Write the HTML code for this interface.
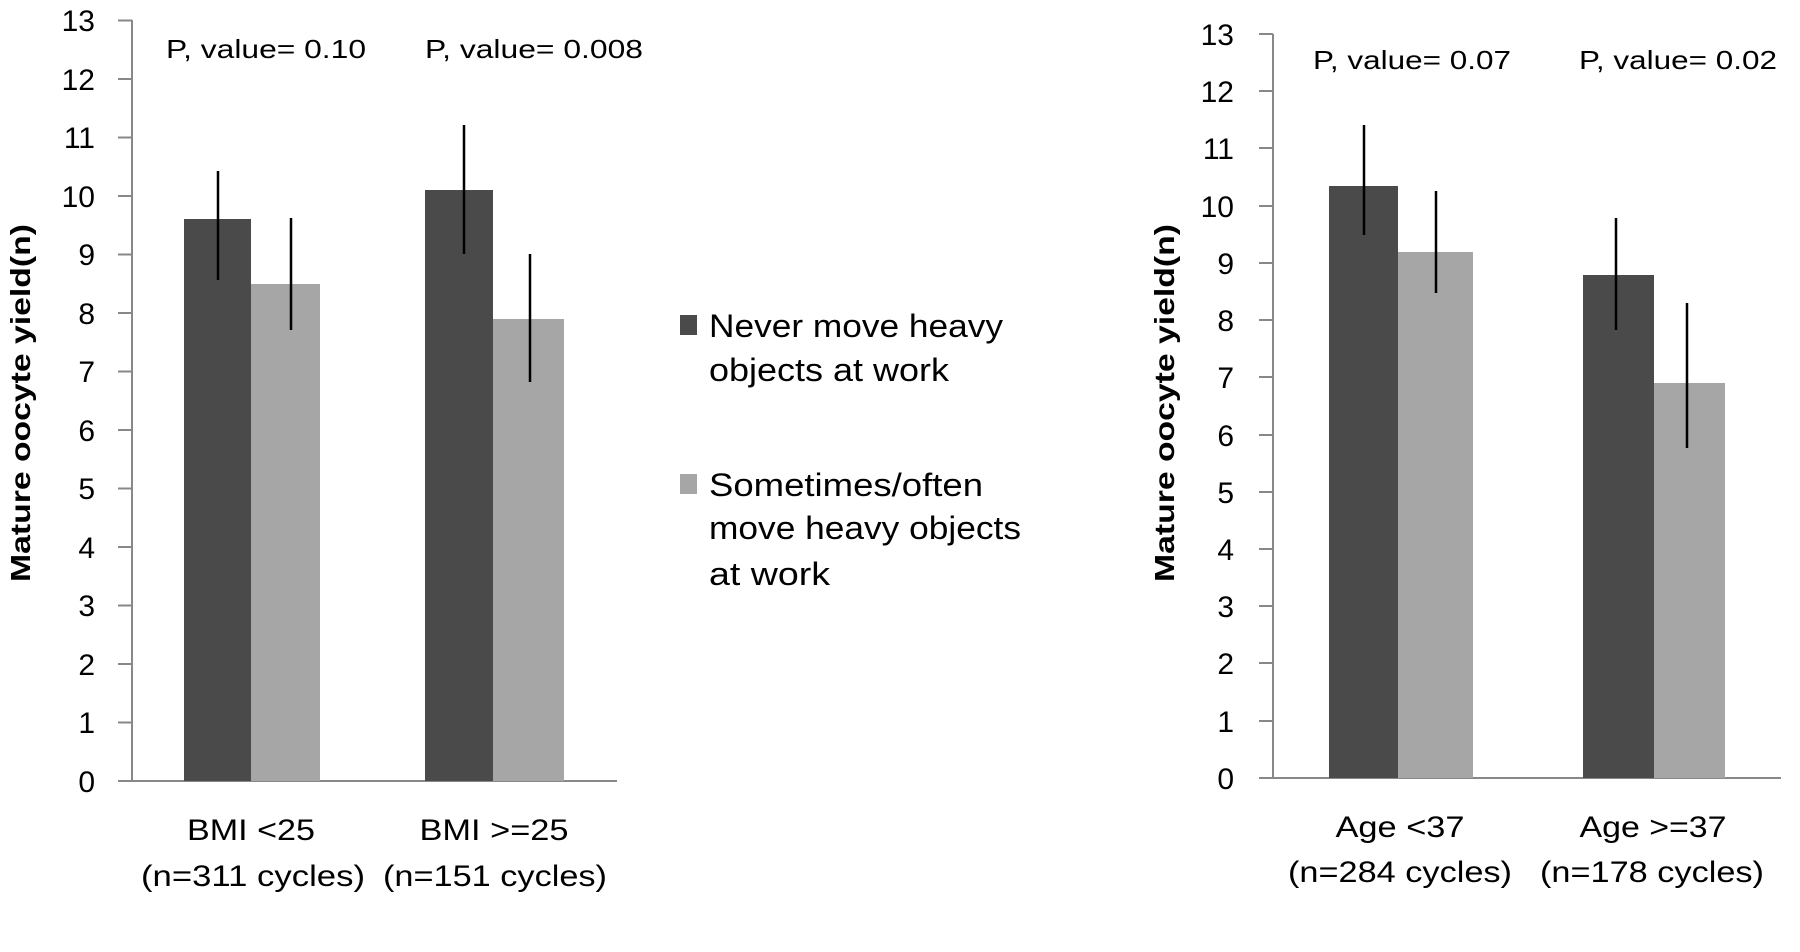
<!DOCTYPE html>
<html><head><meta charset="utf-8"><style>html,body{margin:0;padding:0;background:#fff}svg{display:block}</style></head>
<body>
<svg width="1800" height="952" viewBox="0 0 1800 952" xmlns="http://www.w3.org/2000/svg" font-family="Liberation Sans, sans-serif" fill="#000">
<!-- LEFT CHART -->
<g stroke="#888" stroke-width="2">
<line x1="132" y1="20" x2="132" y2="781"/>
<line x1="132" y1="781" x2="617" y2="781"/>
<line x1="118" y1="20.5" x2="132" y2="20.5"/><line x1="118" y1="79" x2="132" y2="79"/><line x1="118" y1="137.5" x2="132" y2="137.5"/><line x1="118" y1="196" x2="132" y2="196"/><line x1="118" y1="254.5" x2="132" y2="254.5"/><line x1="118" y1="313" x2="132" y2="313"/><line x1="118" y1="371.5" x2="132" y2="371.5"/><line x1="118" y1="430" x2="132" y2="430"/><line x1="118" y1="488.5" x2="132" y2="488.5"/><line x1="118" y1="547" x2="132" y2="547"/><line x1="118" y1="605.5" x2="132" y2="605.5"/><line x1="118" y1="664" x2="132" y2="664"/><line x1="118" y1="722.5" x2="132" y2="722.5"/><line x1="118" y1="781" x2="132" y2="781"/>
</g>
<g font-size="30" text-anchor="end">
<text x="95" y="31">13</text><text x="95" y="90">12</text><text x="95" y="148">11</text><text x="95" y="207">10</text><text x="95" y="265">9</text><text x="95" y="324">8</text><text x="95" y="382">7</text><text x="95" y="441">6</text><text x="95" y="499">5</text><text x="95" y="558">4</text><text x="95" y="616">3</text><text x="95" y="675">2</text><text x="95" y="733">1</text><text x="95" y="792">0</text>
</g>
<rect x="184" y="219" width="67" height="562" fill="#4a4a4a"/>
<rect x="251" y="284" width="69" height="497" fill="#a6a6a6"/>
<rect x="425" y="190" width="68" height="591" fill="#4a4a4a"/>
<rect x="493" y="319" width="71" height="462" fill="#a6a6a6"/>
<g stroke="#000" stroke-width="2.5">
<line x1="218" y1="171" x2="218" y2="280"/>
<line x1="291" y1="218" x2="291" y2="330"/>
<line x1="464" y1="125" x2="464" y2="254"/>
<line x1="530" y1="254" x2="530" y2="382"/>
</g>
<g font-size="26">
<text x="166" y="58" textLength="200" lengthAdjust="spacingAndGlyphs">P, value= 0.10</text>
<text x="425" y="58" textLength="218" lengthAdjust="spacingAndGlyphs">P, value= 0.008</text>
</g>
<text transform="translate(30,403) rotate(-90)" font-size="28" font-weight="bold" text-anchor="middle" textLength="358" lengthAdjust="spacingAndGlyphs">Mature oocyte yield(n)</text>
<g font-size="30" text-anchor="middle">
<text x="251" y="840" textLength="128" lengthAdjust="spacingAndGlyphs">BMI &lt;25</text>
<text x="253" y="886" textLength="224" lengthAdjust="spacingAndGlyphs">(n=311 cycles)</text>
<text x="494" y="840" textLength="149" lengthAdjust="spacingAndGlyphs">BMI &gt;=25</text>
<text x="495" y="886" textLength="224" lengthAdjust="spacingAndGlyphs">(n=151 cycles)</text>
</g>
<!-- LEGEND -->
<rect x="680" y="315" width="17" height="20" fill="#4a4a4a"/>
<rect x="680" y="474" width="17" height="20" fill="#a6a6a6"/>
<g font-size="32">
<text x="709" y="337" textLength="294" lengthAdjust="spacingAndGlyphs">Never move heavy</text>
<text x="709" y="381" textLength="240" lengthAdjust="spacingAndGlyphs">objects at work</text>
<text x="709" y="496" textLength="274" lengthAdjust="spacingAndGlyphs">Sometimes/often</text>
<text x="709" y="539" textLength="312" lengthAdjust="spacingAndGlyphs">move heavy objects</text>
<text x="709" y="585" textLength="121" lengthAdjust="spacingAndGlyphs">at work</text>
</g>
<!-- RIGHT CHART -->
<g stroke="#888" stroke-width="2">
<line x1="1273" y1="34" x2="1273" y2="778"/>
<line x1="1273" y1="778" x2="1781" y2="778"/>
<line x1="1259" y1="34" x2="1273" y2="34"/><line x1="1259" y1="91" x2="1273" y2="91"/><line x1="1259" y1="148" x2="1273" y2="148"/><line x1="1259" y1="206" x2="1273" y2="206"/><line x1="1259" y1="263" x2="1273" y2="263"/><line x1="1259" y1="320" x2="1273" y2="320"/><line x1="1259" y1="377" x2="1273" y2="377"/><line x1="1259" y1="435" x2="1273" y2="435"/><line x1="1259" y1="492" x2="1273" y2="492"/><line x1="1259" y1="549" x2="1273" y2="549"/><line x1="1259" y1="606" x2="1273" y2="606"/><line x1="1259" y1="663" x2="1273" y2="663"/><line x1="1259" y1="721" x2="1273" y2="721"/><line x1="1259" y1="778" x2="1273" y2="778"/>
</g>
<g font-size="30" text-anchor="end">
<text x="1234" y="45">13</text><text x="1234" y="102">12</text><text x="1234" y="159">11</text><text x="1234" y="217">10</text><text x="1234" y="274">9</text><text x="1234" y="331">8</text><text x="1234" y="388">7</text><text x="1234" y="446">6</text><text x="1234" y="503">5</text><text x="1234" y="560">4</text><text x="1234" y="617">3</text><text x="1234" y="674">2</text><text x="1234" y="732">1</text><text x="1234" y="789">0</text>
</g>
<rect x="1329" y="186" width="69" height="592" fill="#4a4a4a"/>
<rect x="1398" y="252" width="75" height="526" fill="#a6a6a6"/>
<rect x="1583" y="275" width="71" height="503" fill="#4a4a4a"/>
<rect x="1654" y="383" width="71" height="395" fill="#a6a6a6"/>
<g stroke="#000" stroke-width="2.5">
<line x1="1364" y1="125" x2="1364" y2="235"/>
<line x1="1436" y1="191" x2="1436" y2="293"/>
<line x1="1616" y1="218" x2="1616" y2="330"/>
<line x1="1687" y1="303" x2="1687" y2="448"/>
</g>
<g font-size="26">
<text x="1313" y="69" textLength="198" lengthAdjust="spacingAndGlyphs">P, value= 0.07</text>
<text x="1579" y="69" textLength="198" lengthAdjust="spacingAndGlyphs">P, value= 0.02</text>
</g>
<text transform="translate(1174,403) rotate(-90)" font-size="28" font-weight="bold" text-anchor="middle" textLength="358" lengthAdjust="spacingAndGlyphs">Mature oocyte yield(n)</text>
<g font-size="30" text-anchor="middle">
<text x="1400" y="837" textLength="129" lengthAdjust="spacingAndGlyphs">Age &lt;37</text>
<text x="1400" y="882" textLength="224" lengthAdjust="spacingAndGlyphs">(n=284 cycles)</text>
<text x="1653" y="837" textLength="147" lengthAdjust="spacingAndGlyphs">Age &gt;=37</text>
<text x="1652" y="882" textLength="224" lengthAdjust="spacingAndGlyphs">(n=178 cycles)</text>
</g>
</svg>
</body></html>
